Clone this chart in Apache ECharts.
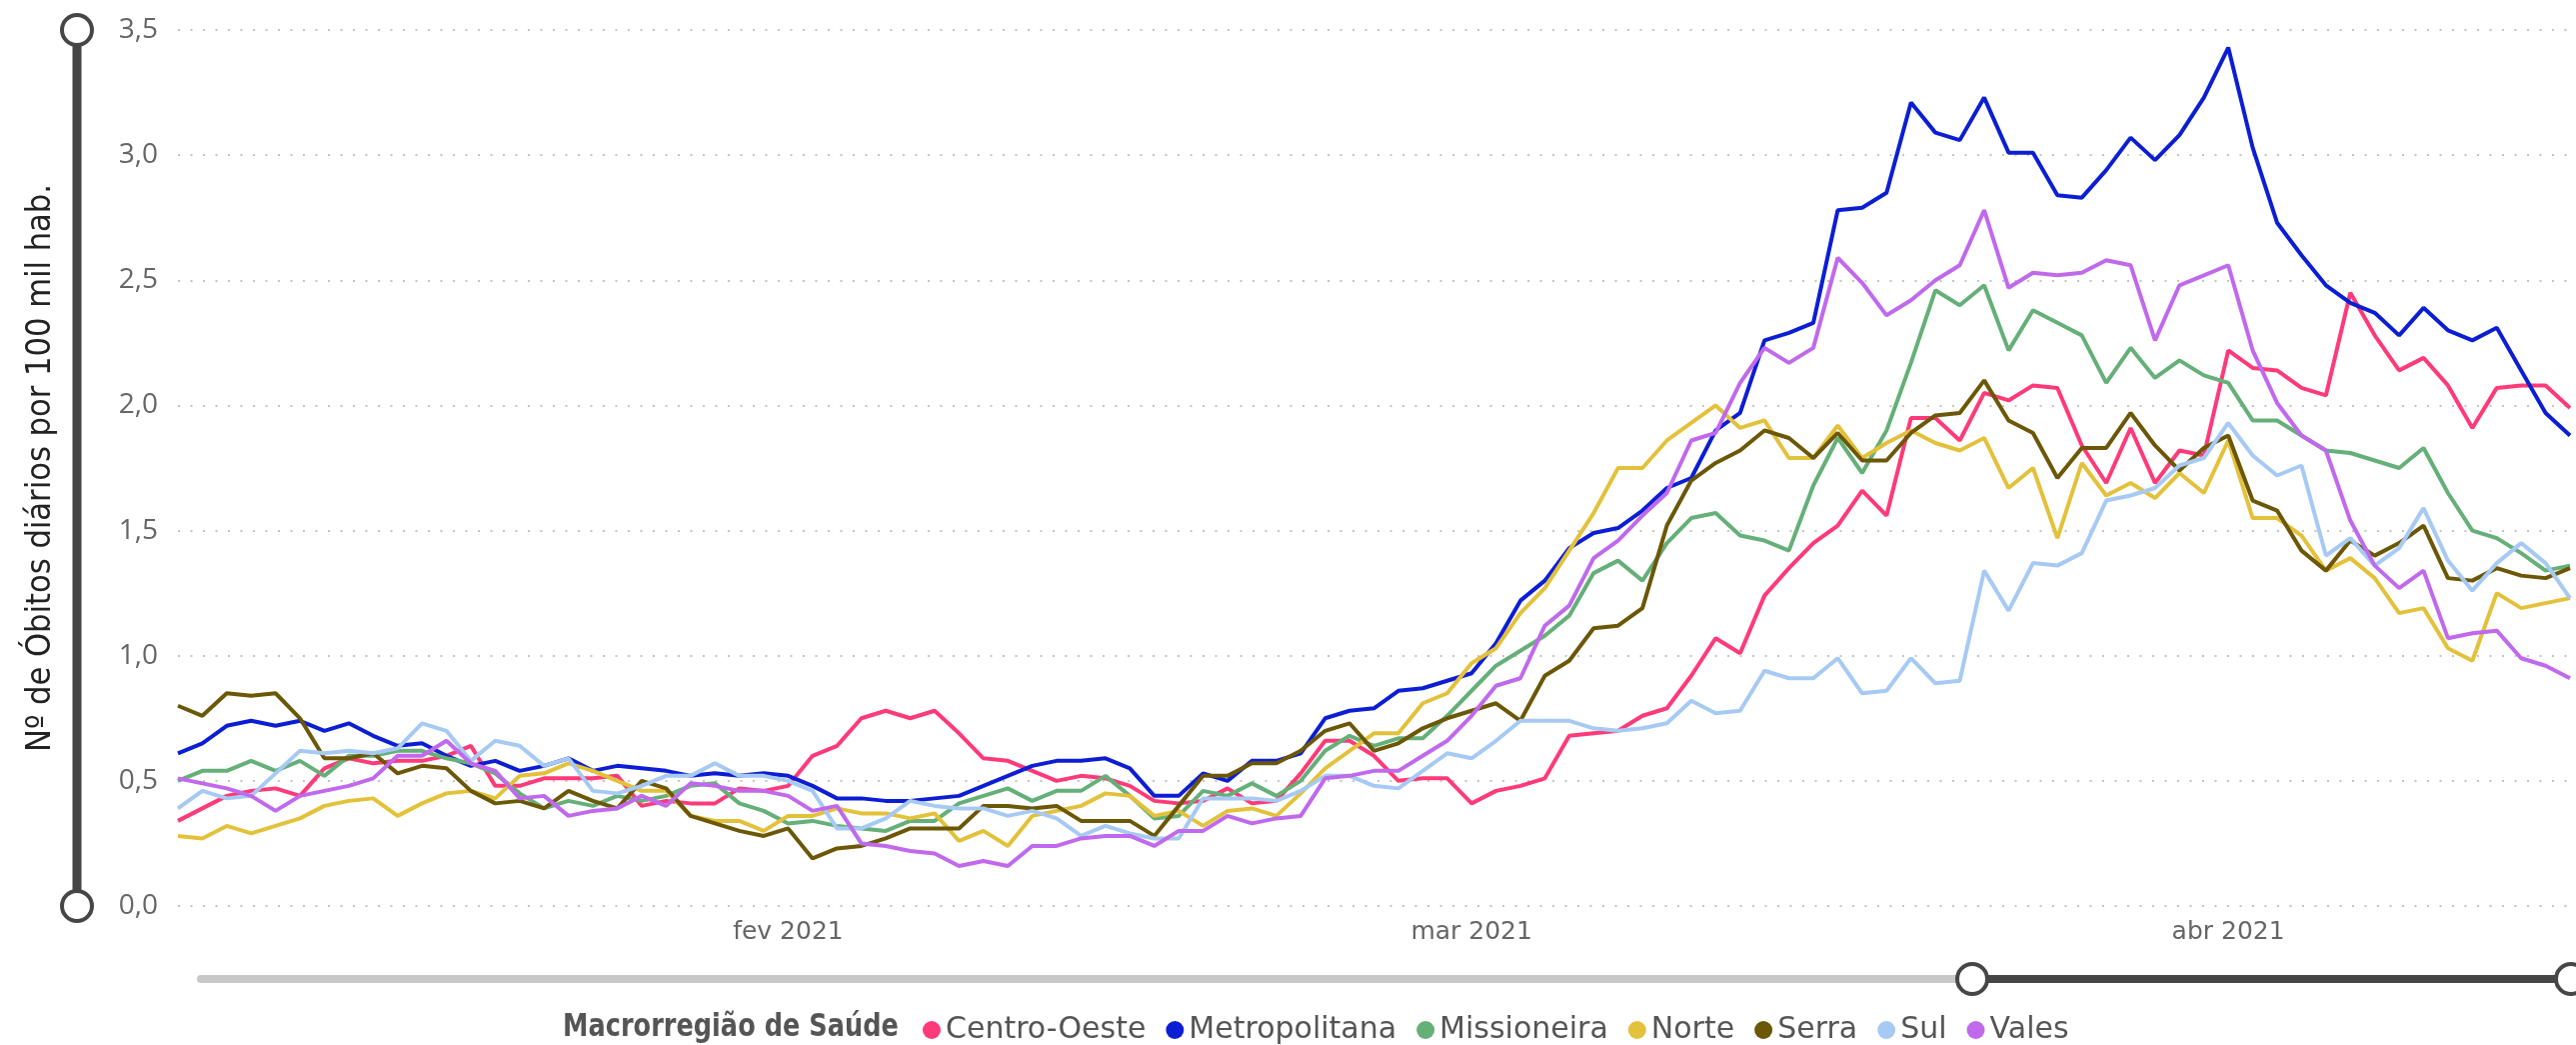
<!DOCTYPE html>
<html>
<head>
<meta charset="utf-8">
<script src="https://cdn.jsdelivr.net/npm/echarts@6/dist/echarts.min.js"></script>
<style>
    html, body { margin: 0; padding: 0; background: #fff; }
    #chart4 { width: 2577px; height: 1045px; }
</style>
</head>
<body>
<div class="graph" id="chart4"></div>
<script>
    // dias de 07/01/2021 até 15/04/2021
    let startDay = '2021-01-07'
    let nDays = 99
    let monthTicks = {'2021-02-01': 'fev 2021', '2021-03-01': 'mar 2021', '2021-04-01': 'abr 2021'}
    let regions = ['Centro-Oeste', 'Metropolitana', 'Missioneira', 'Norte', 'Serra', 'Sul', 'Vales']
    let colors = ['#FF3A78', '#0C1ED4', '#65AF78', '#E3C13A', '#6B5706', '#A6CAF4', '#C069EC']

    let centroOeste = [0.34,0.39,0.44,0.46,0.47,0.44,0.55,0.59,0.57,0.58,0.58,0.60,0.64,0.48,0.48,0.51,0.51,0.51,0.52,0.40,0.42,0.41,0.41,0.47,0.46,
        0.48,0.60,0.64,0.75,0.78,0.75,0.78,0.69,0.59,0.58,0.54,0.50,0.52,0.51,0.48,0.42,0.41,0.42,0.47,0.41,0.42,0.53,0.66,0.66,0.60,0.50,0.51,0.51,
        0.41,0.46,0.48,0.51,0.68,0.69,0.70,0.76,0.79,0.92,1.07,1.01,1.24,1.35,1.45,1.52,1.66,1.56,1.95,1.95,1.86,2.05,2.02,2.08,2.07,1.84,1.69,1.91,1.69,1.82,1.80,
        2.22,2.15,2.14,2.07,2.04,2.45,2.28,2.14,2.19,2.08,1.91,2.07,2.08,2.08,1.99]
    let metropolitana = [0.61,0.65,0.72,0.74,0.72,0.74,0.70,0.73,0.68,0.64,0.65,0.60,0.56,0.58,0.54,0.56,0.59,0.54,0.56,0.55,0.54,0.52,0.53,0.52,0.53,
        0.52,0.48,0.43,0.43,0.42,0.42,0.43,0.44,0.48,0.52,0.56,0.58,0.58,0.59,0.55,0.44,0.44,0.53,0.50,0.58,0.58,0.61,0.75,0.78,0.79,0.86,0.87,0.90,
        0.93,1.05,1.22,1.30,1.43,1.49,1.51,1.58,1.67,1.71,1.90,1.97,2.26,2.29,2.33,2.78,2.79,2.85,3.21,3.09,3.06,3.23,3.01,3.01,2.84,2.83,2.94,3.07,2.98,3.08,3.23,
        3.43,3.03,2.73,2.60,2.48,2.41,2.37,2.28,2.39,2.30,2.26,2.31,2.14,1.97,1.88]
    let missioneira = [0.50,0.54,0.54,0.58,0.54,0.58,0.52,0.60,0.60,0.62,0.62,0.59,0.57,0.53,0.45,0.39,0.42,0.40,0.44,0.42,0.44,0.48,0.49,0.41,0.38,
        0.33,0.34,0.32,0.31,0.30,0.34,0.34,0.41,0.44,0.47,0.42,0.46,0.46,0.52,0.44,0.35,0.36,0.46,0.44,0.49,0.44,0.50,0.62,0.68,0.64,0.67,0.67,0.76,
        0.86,0.96,1.02,1.08,1.16,1.33,1.38,1.30,1.45,1.55,1.57,1.48,1.46,1.42,1.68,1.87,1.73,1.90,2.17,2.46,2.40,2.48,2.22,2.38,2.33,2.28,2.09,2.23,2.11,2.18,2.12,
        2.09,1.94,1.94,1.88,1.82,1.81,1.78,1.75,1.83,1.65,1.50,1.47,1.41,1.34,1.36]
    let norte = [0.28,0.27,0.32,0.29,0.32,0.35,0.40,0.42,0.43,0.36,0.41,0.45,0.46,0.43,0.52,0.53,0.57,0.54,0.50,0.46,0.46,0.36,0.34,0.34,0.30,
        0.36,0.36,0.39,0.37,0.37,0.35,0.37,0.26,0.30,0.24,0.36,0.38,0.40,0.45,0.44,0.36,0.38,0.32,0.38,0.39,0.36,0.45,0.55,0.62,0.69,0.69,0.81,0.85,
        0.97,1.03,1.17,1.27,1.42,1.57,1.75,1.75,1.86,1.93,2.00,1.91,1.94,1.79,1.79,1.92,1.79,1.85,1.90,1.85,1.82,1.87,1.67,1.75,1.47,1.77,1.64,1.69,1.63,1.73,1.65,
        1.86,1.55,1.55,1.48,1.34,1.39,1.31,1.17,1.19,1.03,0.98,1.25,1.19,1.21,1.23]
    let serra = [0.80,0.76,0.85,0.84,0.85,0.75,0.59,0.59,0.61,0.53,0.56,0.55,0.46,0.41,0.42,0.39,0.46,0.42,0.39,0.50,0.47,0.36,0.33,0.30,0.28,
        0.31,0.19,0.23,0.24,0.27,0.31,0.31,0.31,0.40,0.40,0.39,0.40,0.34,0.34,0.34,0.28,0.40,0.52,0.52,0.57,0.57,0.62,0.70,0.73,0.62,0.65,0.71,0.75,
        0.78,0.81,0.74,0.92,0.98,1.11,1.12,1.19,1.52,1.70,1.77,1.82,1.90,1.87,1.79,1.89,1.78,1.78,1.89,1.96,1.97,2.10,1.94,1.89,1.71,1.83,1.83,1.97,1.84,1.74,1.83,
        1.88,1.62,1.58,1.42,1.34,1.46,1.40,1.45,1.52,1.31,1.30,1.35,1.32,1.31,1.35]
    let sul = [0.39,0.46,0.43,0.44,0.53,0.62,0.61,0.62,0.61,0.63,0.73,0.70,0.58,0.66,0.64,0.56,0.59,0.46,0.45,0.48,0.52,0.52,0.57,0.52,0.52,
        0.50,0.46,0.31,0.31,0.35,0.42,0.40,0.39,0.39,0.36,0.38,0.35,0.28,0.32,0.29,0.27,0.27,0.43,0.43,0.43,0.42,0.46,0.52,0.52,0.48,0.47,0.54,0.61,
        0.59,0.66,0.74,0.74,0.74,0.71,0.70,0.71,0.73,0.82,0.77,0.78,0.94,0.91,0.91,0.99,0.85,0.86,0.99,0.89,0.90,1.34,1.18,1.37,1.36,1.41,1.62,1.64,1.67,1.76,1.79,
        1.93,1.80,1.72,1.76,1.40,1.47,1.36,1.43,1.59,1.38,1.26,1.37,1.45,1.37,1.23]
    let vales = [0.51,0.49,0.47,0.44,0.38,0.44,0.46,0.48,0.51,0.60,0.60,0.66,0.57,0.54,0.43,0.44,0.36,0.38,0.39,0.44,0.40,0.49,0.48,0.46,0.46,
        0.44,0.38,0.40,0.25,0.24,0.22,0.21,0.16,0.18,0.16,0.24,0.24,0.27,0.28,0.28,0.24,0.30,0.30,0.36,0.33,0.35,0.36,0.51,0.52,0.54,0.54,0.60,0.66,
        0.76,0.88,0.91,1.12,1.20,1.39,1.46,1.56,1.65,1.86,1.89,2.09,2.23,2.17,2.23,2.59,2.49,2.36,2.42,2.50,2.56,2.78,2.47,2.53,2.52,2.53,2.58,2.56,2.26,2.48,2.52,
        2.56,2.22,2.01,1.88,1.82,1.54,1.36,1.27,1.34,1.07,1.09,1.10,0.99,0.96,0.91]
    let values = [centroOeste, metropolitana, missioneira, norte, serra, sul, vales]

    let days = []
    let t0 = new Date(startDay + 'T00:00:00Z').getTime()
    for (let i = 0; i < nDays; i++) {
        days.push(new Date(t0 + i * 86400000).toISOString().slice(0, 10))
    }

    let sans = '"DejaVu Sans", sans-serif'
    let seriesList = []
    for (let i = 0; i < regions.length; i++) {
        seriesList.push({
            name: regions[i],
            type: 'line',
            data: values[i],
            showSymbol: false,
            color: colors[i],
            lineStyle: {width: 4, color: colors[i]}
        })
    }

    let sliderStyle = {fill: '#fff', stroke: '#464646', lineWidth: 4}
    let myChart = echarts.init(document.getElementById('chart4'))
    const option = {
        animation: false,
        backgroundColor: '#fff',
        grid: {left: 178, right: 6, top: 30, bottom: 139, containLabel: false},
        xAxis: {
            type: 'category',
            data: days,
            boundaryGap: false,
            axisLine: {show: false},
            axisTick: {show: false},
            splitLine: {show: false},
            axisLabel: {
                interval: function (idx, v) { return !!monthTicks[v] },
                formatter: function (v) { return monthTicks[v] || '' },
                color: '#666',
                fontSize: 25,
                fontFamily: sans,
                margin: 14
            }
        },
        yAxis: {
            type: 'value',
            min: 0,
            max: 3.5,
            interval: 0.5,
            axisLine: {show: false},
            axisTick: {show: false},
            axisLabel: {
                formatter: function (v) { return v.toFixed(1).replace('.', ',') },
                color: '#666',
                fontSize: 28,
                fontFamily: '"Open Sans", sans-serif',
                margin: 20
            },
            splitLine: {lineStyle: {color: '#c4c4c4', width: 2, type: [2, 10.5]}}
        },
        legend: {
            data: regions,
            left: 918,
            top: 1010,
            icon: 'circle',
            itemWidth: 18,
            itemHeight: 18,
            itemGap: 20,
            textStyle: {fontSize: 30, color: '#555', fontFamily: sans}
        },
        graphic: [
            // slider vertical
            {id: 'vLine', type: 'line', x: 0, y: 0, shape: {x1: 77, y1: 30, x2: 77, y2: 906}, style: {stroke: '#464646', lineWidth: 9}},
            {id: 'vTop', type: 'circle', x: 0, y: 0, shape: {cx: 77, cy: 30, r: 15}, style: sliderStyle},
            {id: 'vBottom', type: 'circle', x: 0, y: 0, shape: {cx: 77, cy: 906, r: 15}, style: sliderStyle},
            // slider horizontal
            {id: 'hTrack', type: 'line', x: 0, y: 0, shape: {x1: 201, y1: 979, x2: 1973, y2: 979}, style: {stroke: '#c8c8c8', lineWidth: 8, lineCap: 'round'}},
            {id: 'hSel', type: 'line', x: 0, y: 0, shape: {x1: 1973, y1: 979, x2: 2572, y2: 979}, style: {stroke: '#464646', lineWidth: 8}},
            {id: 'hLeft', type: 'circle', x: 0, y: 0, shape: {cx: 1973, cy: 979, r: 15}, style: sliderStyle},
            {id: 'hRight', type: 'circle', x: 0, y: 0, shape: {cx: 2572, cy: 979, r: 15}, style: sliderStyle},
            // título do eixo y e da legenda (estreitados como no original)
            {id: 'yTitle', type: 'text', x: 41, y: 468, rotation: Math.PI / 2, scaleX: 0.9,
                style: {text: 'Nº de Óbitos diários por 100 mil hab.', font: '34px ' + sans, fill: '#222', textAlign: 'center', textVerticalAlign: 'middle'}},
            {id: 'legTitle', type: 'text', x: 563, y: 1028, scaleX: 0.8,
                style: {text: 'Macrorregião de Saúde', font: 'bold 32px ' + sans, fill: '#555', textAlign: 'left', textVerticalAlign: 'middle'}}
        ],
        series: seriesList
    }
    myChart.setOption(option)
</script>
</body>
</html>
